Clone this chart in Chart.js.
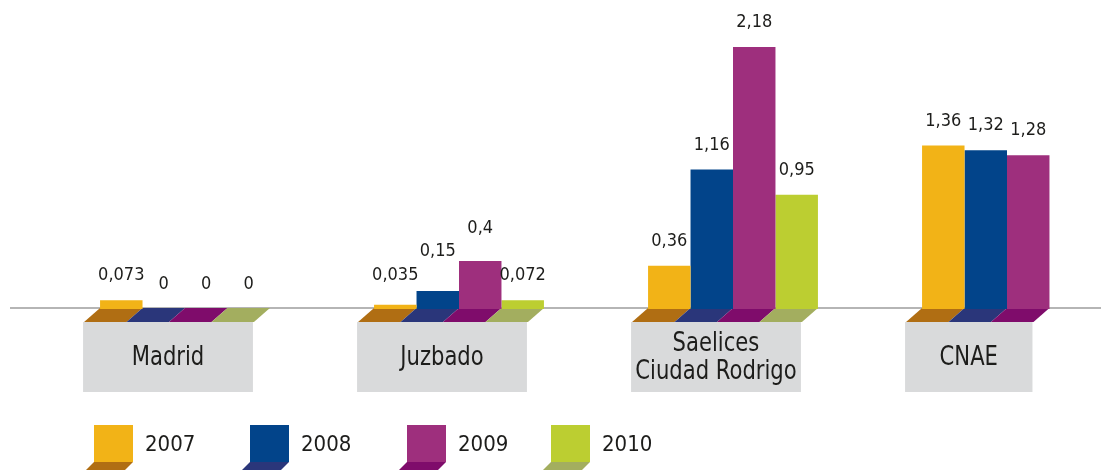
<!DOCTYPE html>
<html>
<head>
<meta charset="utf-8">
<script src="https://cdn.jsdelivr.net/npm/chart.js@4"></script>
<style>
    html, body { margin: 0; padding: 0; background: #fff; overflow: hidden; }
    #contenedor { width: 1150px; height: 470px; position: relative; }
</style>
</head>
<body>
<div id="contenedor"><canvas id="graficoDosis"></canvas></div>
<script>
// Datos
const categorias = [['Madrid'], ['Juzbado'], ['Saelices', 'Ciudad Rodrigo'], ['CNAE']];
const anios = ['2007', '2008', '2009', '2010'];
const valores2007 = [0.073, 0.035, 0.36, 1.36];
const valores2008 = [0, 0.15, 1.16, 1.32];
const valores2009 = [0, 0.4, 2.18, 1.28];
const valores2010 = [0, 0.072, 0.95, null];

const coloresBarra = ['#F2B317', '#02448A', '#9E2F7D', '#BCCE31'];
const coloresSuelo = ['#B06E13', '#2A367A', '#7F0C6B', '#A3AE5F'];

const fuente = "'DejaVu Sans Condensed', 'DejaVu Sans', sans-serif";
const colorTexto = '#1d1d1b';

//ajuste vertical de algunas etiquetas (categoria-serie)
const ajusteEtiqueta = { '1-0': 5, '1-1': 15, '1-2': 8 };

function formatear(v) {
    return String(v).replace('.', ',');
}

const decorado = {
    id: 'decorado',
    beforeDatasetsDraw(chart) {
        const ctx = chart.ctx;
        const base = chart.scales.y.getPixelForValue(0);
        ctx.save();

        //linea base
        ctx.strokeStyle = '#B5B5B5';
        ctx.lineWidth = 2;
        ctx.beginPath();
        ctx.moveTo(10, base - 1);
        ctx.lineTo(chart.width, base - 1);
        ctx.stroke();

        //suelos y cajas de categoria
        categorias.forEach((cat, i) => {
            let izq = Infinity, der = -Infinity;
            chart.data.datasets.forEach((ds, d) => {
                if (ds.data[i] === null) return;
                const el = chart.getDatasetMeta(d).data[i];
                const x0 = el.x - el.width / 2;
                const x1 = el.x + el.width / 2;
                izq = Math.min(izq, x0);
                der = Math.max(der, x1);
                ctx.fillStyle = coloresSuelo[d];
                ctx.beginPath();
                ctx.moveTo(x0, base - 1);
                ctx.lineTo(x1, base - 1);
                ctx.lineTo(x1 - 16, base + 13);
                ctx.lineTo(x0 - 16, base + 13);
                ctx.closePath();
                ctx.fill();
            });
            ctx.fillStyle = '#D9DADB';
            ctx.fillRect(izq - 17, base + 13, der - izq, 70);

            //texto de categoria, algo estrechado
            ctx.fillStyle = colorTexto;
            ctx.font = '27px ' + fuente;
            ctx.textAlign = 'center';
            ctx.textBaseline = 'middle';
            const cx = (izq + der) / 2 - 17;
            const cy = base + 49;
            const alto = 28;
            cat.forEach((linea, k) => {
                ctx.save();
                ctx.translate(cx, cy + (k - (cat.length - 1) / 2) * alto);
                ctx.scale(0.87, 1);
                ctx.fillText(linea, 0, 0);
                ctx.restore();
            });
        });
        ctx.restore();
    },
    afterDatasetsDraw(chart) {
        const ctx = chart.ctx;
        ctx.save();
        ctx.fillStyle = colorTexto;
        ctx.font = '18px ' + fuente;
        ctx.textAlign = 'center';
        ctx.textBaseline = 'alphabetic';
        chart.data.datasets.forEach((ds, d) => {
            chart.getDatasetMeta(d).data.forEach((el, i) => {
                if (ds.data[i] === null) return;
                const extra = ajusteEtiqueta[i + '-' + d] || 0;
                ctx.fillText(formatear(ds.data[i]), el.x, el.y - 20 - extra);
            });
        });

        //leyenda
        const legendaX = [94, 250, 407, 551];
        ctx.font = '22px ' + fuente;
        ctx.textAlign = 'left';
        ctx.textBaseline = 'middle';
        anios.forEach((a, d) => {
            const x = legendaX[d];
            ctx.fillStyle = coloresSuelo[d];
            ctx.beginPath();
            ctx.moveTo(x, 462);
            ctx.lineTo(x + 39, 462);
            ctx.lineTo(x + 29, 472);
            ctx.lineTo(x - 10, 472);
            ctx.closePath();
            ctx.fill();
            ctx.fillStyle = coloresBarra[d];
            ctx.fillRect(x, 425, 39, 37);
            ctx.fillStyle = colorTexto;
            ctx.fillText(a, x + 51, 445);
        });
        ctx.restore();
    }
};

new Chart('graficoDosis', {
    type: 'bar',
    data: {
        labels: categorias,
        datasets: [
            { label: anios[0], data: valores2007, backgroundColor: coloresBarra[0] },
            { label: anios[1], data: valores2008, backgroundColor: coloresBarra[1] },
            { label: anios[2], data: valores2009, backgroundColor: coloresBarra[2] },
            { label: anios[3], data: valores2010, backgroundColor: coloresBarra[3] }
        ]
    },
    options: {
        responsive: true,
        maintainAspectRatio: false,
        animation: false,
        datasets: { bar: { barPercentage: 1, categoryPercentage: 0.62, borderWidth: 0 } },
        layout: { padding: { left: 48, right: 6, top: 8.5, bottom: 161 } },
        scales: {
            x: { display: false },
            y: { display: false, min: 0, max: 2.5 }
        },
        plugins: {
            legend: { display: false },
            tooltip: { enabled: false }
        }
    },
    plugins: [decorado]
});
</script>
</body>
</html>
